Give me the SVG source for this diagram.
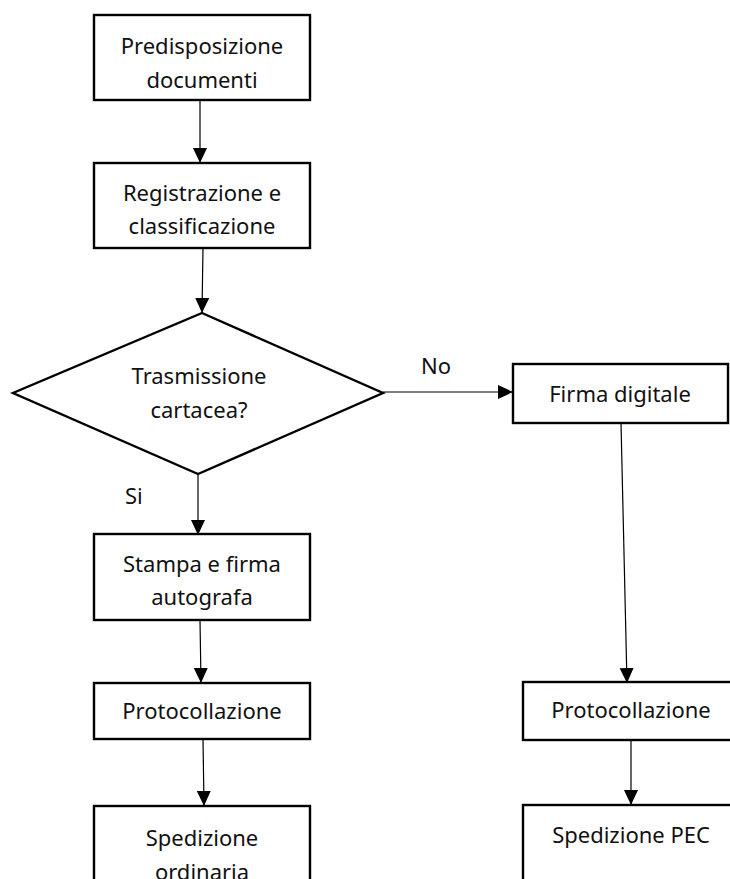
<svg xmlns="http://www.w3.org/2000/svg" width="730" height="879" viewBox="0 0 730 879">
<defs>
<style>
.box{fill:#fff;stroke:#000;stroke-width:2.4}
.t{font-family:"Noto Sans","Open Sans",sans-serif;font-size:22px;fill:#111;text-anchor:middle}
.lbl{font-family:"Noto Sans","Open Sans",sans-serif;font-size:22px;fill:#111}
.c{fill:none;stroke:#000;stroke-width:1.2}
</style>
<marker id="ah" markerUnits="userSpaceOnUse" markerWidth="16" markerHeight="16" viewBox="0 0 16 16" refX="15" refY="8" orient="auto">
<path d="M0,1 L15,8 L0,15 Z" fill="#000"/>
</marker>
</defs>
<rect width="730" height="879" fill="#fff"/>
<g id="connectors">
<line class="c" x1="200" y1="100" x2="200" y2="163" marker-end="url(#ah)"/>
<line class="c" x1="203" y1="248" x2="202" y2="313" marker-end="url(#ah)"/>
<line class="c" x1="383" y1="392" x2="513" y2="392" marker-end="url(#ah)"/>
<line class="c" x1="198" y1="474" x2="198" y2="535" marker-end="url(#ah)"/>
<line class="c" x1="200" y1="620" x2="201" y2="683" marker-end="url(#ah)"/>
<line class="c" x1="203" y1="739" x2="204" y2="806" marker-end="url(#ah)"/>
<line class="c" x1="621" y1="423" x2="627" y2="683" marker-end="url(#ah)"/>
<line class="c" x1="631" y1="740" x2="631" y2="805" marker-end="url(#ah)"/>
</g>
<g id="lbl-no"><text class="lbl" x="421" y="374">No</text></g>
<g id="lbl-si"><text class="lbl" x="125" y="504">Si</text></g>
<g id="n1"><rect class="box" x="94" y="15" width="216" height="85"/><text class="t" x="202" y="54">Predisposizione</text><text class="t" x="202" y="88">documenti</text></g>
<g id="n2"><rect class="box" x="94" y="163" width="216" height="85"/><text class="t" x="202" y="201">Registrazione e</text><text class="t" x="202" y="234">classificazione</text></g>
<g id="n3"><polygon class="box" points="202,313 383,393 198,474 13,393"/><text class="t" x="199" y="384">Trasmissione</text><text class="t" x="199" y="418">cartacea?</text></g>
<g id="n4"><rect class="box" x="513" y="364" width="215" height="59"/><text class="t" x="620" y="402">Firma digitale</text></g>
<g id="n5"><rect class="box" x="94" y="534" width="216" height="86"/><text class="t" x="202" y="572">Stampa e firma</text><text class="t" x="202" y="605">autografa</text></g>
<g id="n6"><rect class="box" x="94" y="683" width="216" height="56"/><text class="t" x="202" y="719">Protocollazione</text></g>
<g id="n7"><rect class="box" x="94" y="806" width="216" height="100"/><text class="t" x="202" y="846">Spedizione</text><text class="t" x="202" y="880">ordinaria</text></g>
<g id="n8"><rect class="box" x="523" y="682" width="216" height="58"/><text class="t" x="631" y="718">Protocollazione</text></g>
<g id="n9"><rect class="box" x="523" y="805" width="216" height="100"/><text class="t" x="631" y="843">Spedizione PEC</text></g>
</svg>
